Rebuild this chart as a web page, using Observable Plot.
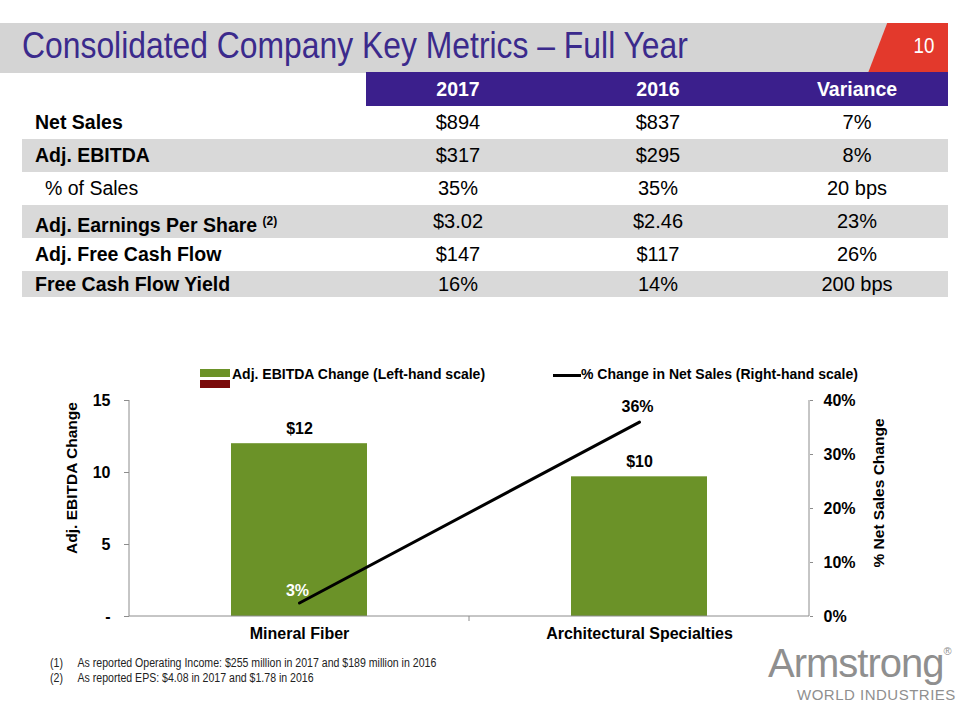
<!DOCTYPE html>
<html><head><meta charset="utf-8">
<script src="https://cdn.jsdelivr.net/npm/d3@7"></script>
<script src="https://cdn.jsdelivr.net/npm/@observablehq/plot@0.6"></script>
<style>
body{margin:0;width:960px;height:720px;position:relative;overflow:hidden;background:#fff;font-family:Arial,"Liberation Sans",sans-serif;color:#000;}
.abs{position:absolute;}
#band{left:0;top:23px;width:890px;height:50px;background:#d4d4d4;}
#red{left:868px;top:23px;width:80px;height:50px;background:#e3392c;clip-path:polygon(24% 0,100% 0,100% 100%,0 100%);}
#pnum{left:910px;top:33px;width:28px;text-align:center;color:#fff;font-size:22px;transform:scaleX(0.85);}
#title{left:22px;top:25px;color:#3b2a8c;font-size:36px;white-space:nowrap;transform:scaleX(0.885);transform-origin:0 0;}
.row{position:absolute;left:22px;width:926px;height:33px;}
.cell{position:absolute;top:0;height:33px;line-height:33px;font-size:20px;white-space:nowrap;}
.lbl{left:13px;font-weight:bold;font-size:19.5px;}
.lbl sup{font-size:12px;vertical-align:7px;}
.num{width:200px;margin-left:-100px;text-align:center;}
#hdr{left:366px;top:72px;width:582px;height:34px;background:#3b1f8c;}
.hcell{position:absolute;top:0;height:34px;line-height:34px;width:200px;margin-left:-100px;text-align:center;color:#fff;font-weight:bold;font-size:19.5px;}
#legend{left:0;top:362px;width:960px;height:30px;font-size:14px;font-weight:bold;}
.foot{left:50px;font-size:12px;color:#222;white-space:nowrap;transform:scaleX(0.88);transform-origin:0 0;}
#logo1{left:768px;top:641px;font-size:40px;color:#8f8f8f;letter-spacing:-1px;}
#logo2{left:797px;top:686px;font-size:15px;color:#8f8f8f;letter-spacing:0.5px;}
#chart{left:0;top:390px;}
</style></head><body>
<div id="band" class="abs"></div>
<div id="red" class="abs"></div>
<div id="pnum" class="abs">10</div>
<div id="title" class="abs">Consolidated Company Key Metrics – Full Year</div>
<div id="hdr" class="abs"></div>
<div id="table"></div>
<div id="legend" class="abs"></div>
<div id="chart" class="abs"></div>
<div class="abs foot" style="top:656px">(1)&nbsp;&nbsp;&nbsp;&nbsp;&nbsp;As reported Operating Income: $255 million in 2017 and $189 million in 2016</div>
<div class="abs foot" style="top:671px">(2)&nbsp;&nbsp;&nbsp;&nbsp;&nbsp;As reported EPS: $4.08 in 2017 and $1.78 in 2016</div>
<div id="logo1" class="abs">Armstrong<span style="font-size:11px;vertical-align:22px">®</span></div>
<div id="logo2" class="abs">WORLD INDUSTRIES</div>
<script>
// ---- table data ----
const tableColumns = ["2017", "2016", "Variance"];
const rowLabels = ["Net Sales", "Adj. EBITDA", "% of Sales", "Adj. Earnings Per Share", "Adj. Free Cash Flow", "Free Cash Flow Yield"];
const rowNotes = ["", "", "", "(2)", "", ""];
const values2017 = ["$894", "$317", "35%", "$3.02", "$147", "16%"];
const values2016 = ["$837", "$295", "35%", "$2.46", "$117", "14%"];
const variance = ["7%", "8%", "20 bps", "23%", "26%", "200 bps"];

// ---- chart data ----
const segments = ["Mineral Fiber", "Architectural Specialties"];
const ebitdaChange = [12, 9.7];
const ebitdaLabels = ["$12", "$10"];
const netSalesChange = [2.5, 36];
const netSalesLabels = ["3%", "36%"];
const leftTicks = [0, 5, 10, 15];
const rightTicks = [0, 10, 20, 30, 40];
const legendLabels = ["Adj. EBITDA Change (Left-hand scale)", "% Change in Net Sales (Right-hand scale)"];

// ---- table ----
const colCenters = [458, 658, 857];
const hdr = document.getElementById("hdr");
tableColumns.forEach((c, i) => {
  const d = document.createElement("div");
  d.className = "hcell"; d.style.left = (colCenters[i] - 366) + "px"; d.textContent = c;
  hdr.appendChild(d);
});
const tbl = document.getElementById("table");
rowLabels.forEach((lab, r) => {
  const row = document.createElement("div");
  row.className = "row";
  row.style.top = (106 + r * 33) + "px";
  if (r === 5) row.style.height = "26px";
  if (r % 2 === 1) row.style.background = "#d9d9d9";
  const l = document.createElement("div");
  l.className = "cell lbl";
  if (r === 5) { l.style.height = "26px"; l.style.lineHeight = "26px"; }
  if (lab.startsWith("%")) { l.style.fontWeight = "normal"; l.style.left = "23px"; }
  l.innerHTML = lab + (rowNotes[r] ? " <sup>" + rowNotes[r] + "</sup>" : "");
  row.appendChild(l);
  [values2017[r], values2016[r], variance[r]].forEach((v, i) => {
    const c = document.createElement("div");
    c.className = "cell num";
    if (r === 5) { c.style.height = "26px"; c.style.lineHeight = "26px"; }
    c.style.left = (colCenters[i] - 22) + "px";
    c.textContent = v;
    row.appendChild(c);
  });
  tbl.appendChild(row);
});

// ---- legend ----
const lg = document.getElementById("legend");
lg.innerHTML =
  `<div class="abs" style="left:200px;top:7px;width:30px;height:8px;background:#6b9228"></div>` +
  `<div class="abs" style="left:200px;top:18px;width:30px;height:8px;background:#7a0a0a"></div>` +
  `<div class="abs" style="left:232px;top:4px;white-space:nowrap">${legendLabels[0]}</div>` +
  `<div class="abs" style="left:553px;top:12px;width:28px;height:3px;background:#000"></div>` +
  `<div class="abs" style="left:581px;top:4px;white-space:nowrap">${legendLabels[1]}</div>`;

// ---- chart ----
const leftMax = d3.max(leftTicks), rightMax = d3.max(rightTicks);
const toLeft = p => p / rightMax * leftMax;
const rows = segments.map((s, i) => ({
  segment: s, ebitda: ebitdaChange[i], ebitdaLabel: ebitdaLabels[i],
  pct: toLeft(netSalesChange[i]), pctLabel: netSalesLabels[i]
}));

const axisColor = "#8c8c8c";
const decor = (index, scales, values, dim) => {
  const {x} = scales;
  const g = d3.create("svg:g");
  const x0 = dim.marginLeft, x1 = dim.width - dim.marginRight;
  const yT = dim.marginTop, yB = dim.height - dim.marginBottom;
  g.append("line").attr("x1", x0).attr("x2", x0).attr("y1", yT).attr("y2", yB).attr("stroke", axisColor);
  g.append("line").attr("x1", x1).attr("x2", x1).attr("y1", yT).attr("y2", yB).attr("stroke", axisColor);
  g.append("line").attr("x1", x0).attr("x2", x1).attr("y1", yB).attr("y2", yB).attr("stroke", axisColor);
  const bx = (x(segments[0]) + x(segments[1]) + x.bandwidth()) / 2;
  g.append("line").attr("x1", bx).attr("x2", bx).attr("y1", yB).attr("y2", yB + 5).attr("stroke", axisColor);
  g.append("text").attr("transform", `translate(${x0 - 52},${(yT + yB) / 2 - 30}) rotate(-90)`)
    .attr("text-anchor", "middle").attr("font-size", 15.5).attr("font-weight", "bold").attr("fill", "#000")
    .text("Adj. EBITDA Change");
  g.append("text").attr("transform", `translate(${x1 + 75},${(yT + yB) / 2 - 15}) rotate(-90)`)
    .attr("text-anchor", "middle").attr("font-size", 15.5).attr("font-weight", "bold").attr("fill", "#000")
    .text("% Net Sales Change");
  return g.node();
};

const fs = 16;
const chart = Plot.plot({
  width: 960, height: 260,
  marginLeft: 129, marginRight: 151, marginTop: 10, marginBottom: 34,
  x: {domain: segments, paddingInner: 0.6, paddingOuter: 0.3},
  y: {domain: [0, leftMax]},
  style: {fontFamily: "Arial, 'Liberation Sans', sans-serif", fontSize: "16px", color: "#000", background: "transparent", overflow: "visible"},
  marks: [
    Plot.barY(rows, {x: "segment", y: "ebitda", fill: "#6b9228"}),
    Plot.axisY(leftTicks, {anchor: "left", tickFormat: d => d === 0 ? "-" : d, tickSize: 5, tickPadding: 14, stroke: axisColor, fill: "#000", fontWeight: "bold", fontSize: fs, label: null}),
    Plot.axisY(rightTicks.map(toLeft), {anchor: "right", tickFormat: d => Math.round(d / leftMax * rightMax) + "%", tickSize: 3, tickPadding: 11, stroke: axisColor, fill: "#000", fontWeight: "bold", fontSize: fs, label: null}),
    Plot.axisX({tickSize: 0, tickPadding: 11, fontWeight: "bold", fontSize: fs, fill: "#000", label: null}),
    decor,
    Plot.text(rows, {x: "segment", y: "ebitda", text: "ebitdaLabel", dy: -15, fontWeight: "bold", fontSize: fs, fill: "#000"}),
    Plot.line(rows, {x: "segment", y: "pct", stroke: "#000", strokeWidth: 3}),
    Plot.text(rows, {filter: (d, i) => i === 0, x: "segment", y: "pct", text: "pctLabel", dy: -12, dx: -2, fontWeight: "bold", fontSize: fs, fill: "#fff"}),
    Plot.text(rows, {filter: (d, i) => i === 1, x: "segment", y: "pct", text: "pctLabel", dy: -15, dx: -2, fontWeight: "bold", fontSize: fs, fill: "#000"})
  ]
});
document.getElementById("chart").appendChild(chart);
</script>
</body></html>
